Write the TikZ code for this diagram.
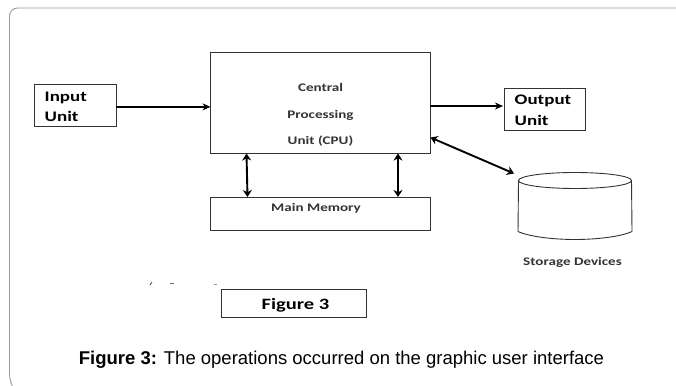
\documentclass[tikz,border=0pt]{standalone}
\usepackage{fontspec}
\setmainfont{Liberation Sans}
\newfontfamily\diagfont[FakeStretch=1.3]{Carlito}
\usetikzlibrary{arrows.meta,shapes.geometric}
\definecolor{framegray}{HTML}{9A9A9A}
\definecolor{inkgray}{HTML}{333333}
\tikzset{
  box/.style={draw=inkgray,line width=0.9pt,inner sep=0pt,fill=white},
  lbl/.style={inner sep=0pt,font=\diagfont\bfseries\fontsize{11.6}{13}\selectfont,text=inkgray},
  iolbl/.style={inner sep=0pt,font=\diagfont\bfseries\fontsize{14.6}{16}\selectfont,text=black},
  link/.style={line width=1.7pt,black,-{Stealth[length=8pt,width=7pt]}},
  dlink/.style={line width=1.9pt,black,{Stealth[length=7pt,width=9pt]}-{Stealth[length=7pt,width=9pt]}}
}
\begin{document}
\begin{tikzpicture}[x=1pt,y=-1pt]
\useasboundingbox (0,0) rectangle (676,385);
\draw[framegray,line width=0.9pt,rounded corners=8pt] (12,386) -- (9.5,382) -- (9.5,8) -- (677,8);
% boxes
\node[box,minimum width=81.5pt,minimum height=41.5pt] (input) at (75.25,105.25) {};
\node[box,minimum width=219.5pt,minimum height=101.5pt] (cpu) at (320.25,102.75) {};
\node[box,minimum width=219.5pt,minimum height=33pt] (mem) at (320.25,213.5) {};
\node[box,minimum width=81.5pt,minimum height=41.5pt] (output) at (544.75,109.25) {};
\node[box,minimum width=144.5pt,minimum height=27.5pt] (figbox) at (293.75,303.5) {};
% labels
\node[iolbl,anchor=base west] (inputa) at (44.5,102) {Input};
\node[iolbl,anchor=base west] (inputb) at (44.5,121.5) {Unit};
\node[iolbl,anchor=base west] (outputa) at (514.5,105) {Output};
\node[iolbl,anchor=base west] (outputb) at (514.5,125.5) {Unit};
\node[lbl,anchor=base] (cpua) at (320.5,92) {Central};
\node[lbl,anchor=base] (cpub) at (320.5,118) {Processing};
\node[lbl,anchor=base] (cpuc) at (320.5,144) {Unit (CPU)};
\node[lbl,anchor=base] (memlbl) at (316,211) {Main Memory};
\node[lbl,anchor=base] (storelbl) at (572.5,265) {Storage Devices};
\node[inner sep=0pt,anchor=base,font=\diagfont\bfseries\fontsize{15.8}{18}\selectfont] (figlbl) at (295.5,309.5) {Figure 3};
\node[inner sep=0pt,anchor=base,font=\fontsize{18.5}{21}\selectfont] (caption) at (341.5,364) {\textbf{Figure 3:} The operations occurred on the graphic user interface};
% scan specks
\draw[inkgray,line width=0.7pt] (150,285) -- (152,282);
\draw[inkgray!70,line width=0.7pt] (170,283.5) -- (174,283.5);
\draw[inkgray!50,line width=0.6pt] (214,284) -- (217,284);
% cylinder
\draw[inkgray,line width=0.9pt] (575,180.5) ellipse[x radius=56.5,y radius=8];
\draw[inkgray,line width=0.9pt] (518.5,180.5) -- (518,231.5) .. controls (530,237) and (555,239.5) .. (575,239.5)
  .. controls (595,239.5) and (620,237) .. (632,231.5) -- (631.5,180.5);
\coordinate (cylend) at (514,173.5);
% connectors
\coordinate (ia) at (116,106.9);
\coordinate (ib) at (210.5,106.9);
\draw[link] (ia) -- (ib);
\coordinate (oa) at (430,106);
\coordinate (ob) at (503,106);
\draw[link] (oa) -- (ob);
\draw[dlink] (246.5,153.5) -- (247.5,197);
\draw[dlink] (398,153.5) -- (398,197);
\draw[dlink] (430.5,137.5) -- (cylend);
\end{tikzpicture}
\end{document}
